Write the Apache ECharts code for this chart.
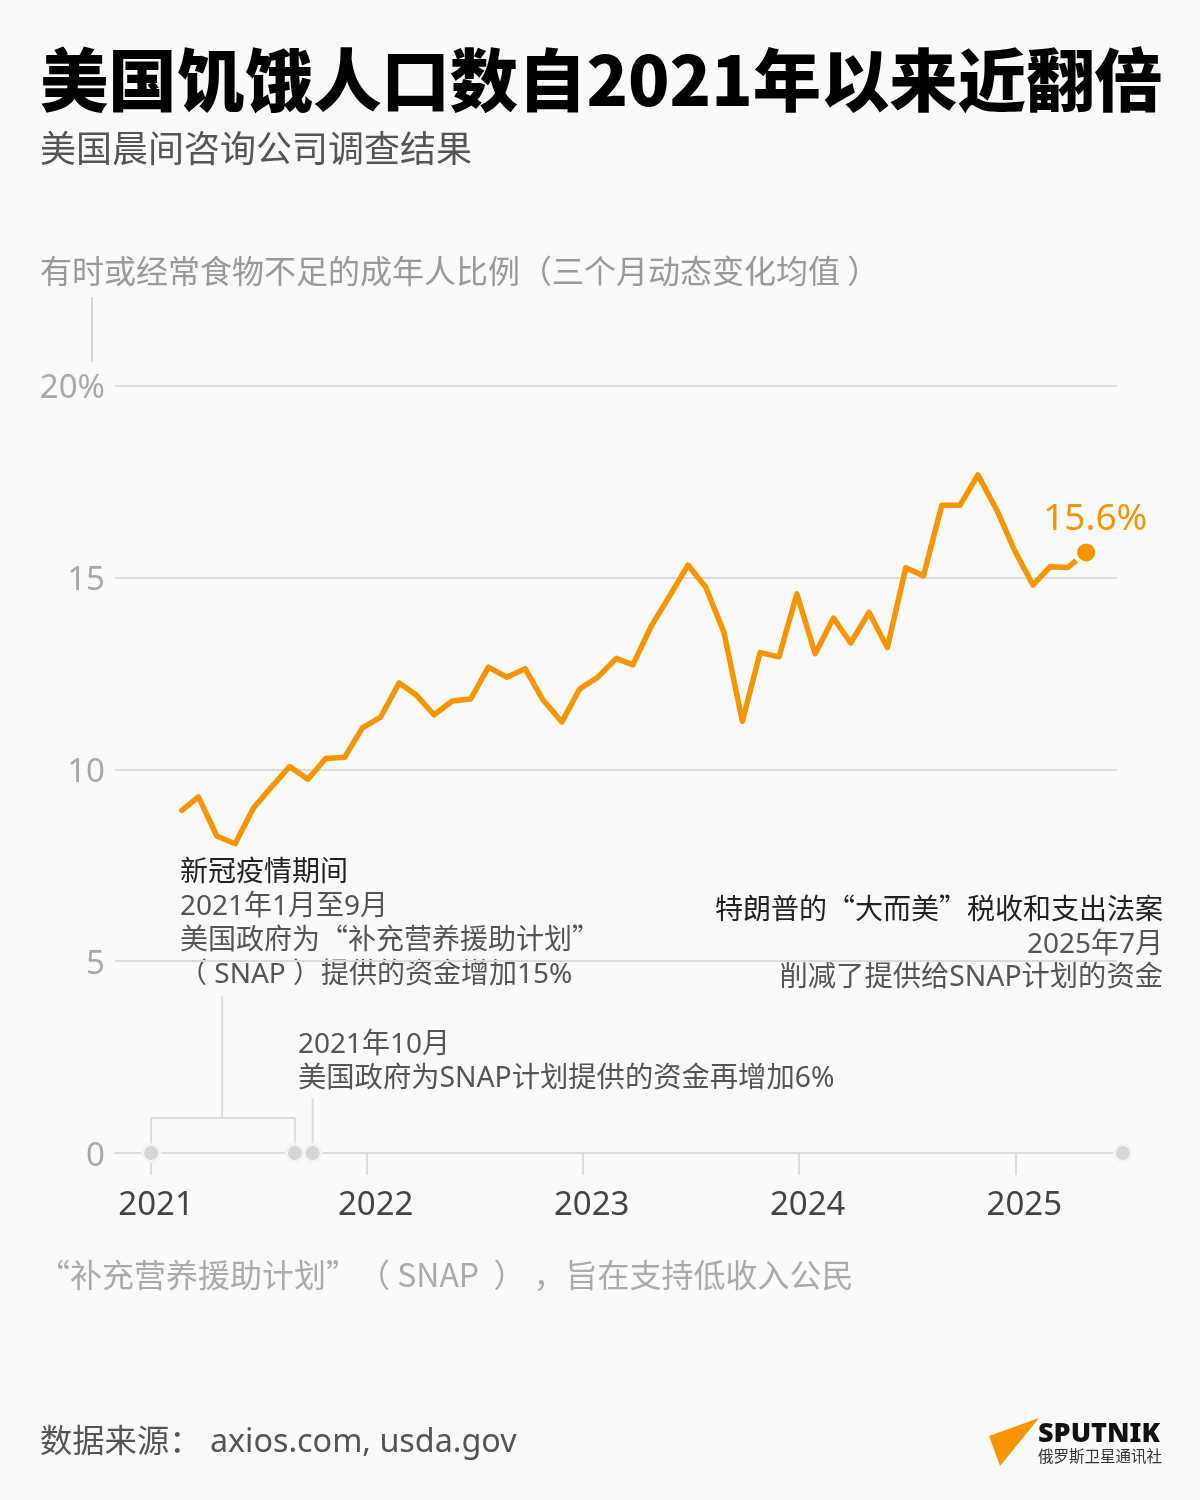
<!DOCTYPE html>
<html>
<head>
<meta charset="utf-8">
<title>美国饥饿人口数自2021年以来近翻倍</title>
<style>
  html, body { margin: 0; padding: 0; background: #fafafa; }
  #chart { width: 1200px; height: 1500px; }
</style>
<script src="https://cdn.jsdelivr.net/npm/echarts@6/dist/echarts.min.js"></script>
</head>
<body>
<div id="chart"></div>
<script>
const FONT = '"Noto Sans", "Noto Sans CJK SC", sans-serif';
const FONT_CJK = '"Noto Sans CJK SC", "Noto Sans", sans-serif';

const dates = [
  '2021-02-22', '2021-03-22', '2021-04-22', '2021-05-23', '2021-06-23', '2021-07-23',
  '2021-08-23', '2021-09-23', '2021-10-23', '2021-11-24', '2021-12-24',
  '2022-01-24', '2022-02-24', '2022-03-24', '2022-04-24', '2022-05-25', '2022-06-25', '2022-07-25',
  '2022-08-25', '2022-09-25', '2022-10-25', '2022-11-26', '2022-12-26',
  '2023-01-26', '2023-02-26', '2023-03-26', '2023-04-26', '2023-05-27', '2023-06-27', '2023-07-27',
  '2023-08-27', '2023-09-27', '2023-10-27', '2023-11-28', '2023-12-28',
  '2024-01-28', '2024-02-28', '2024-03-28', '2024-04-28', '2024-05-29', '2024-06-29', '2024-07-29',
  '2024-08-29', '2024-09-29', '2024-10-29', '2024-11-30', '2024-12-30',
  '2025-01-30', '2025-02-28', '2025-03-30', '2025-04-30'
];
const hungerShare = [
  8.93, 9.28, 8.26, 8.06, 8.99, 9.53,
  10.07, 9.74, 10.28, 10.31, 11.08,
  11.36, 12.25, 11.95, 11.42, 11.78, 11.83, 12.66,
  12.40, 12.62, 11.81, 11.23, 12.09,
  12.40, 12.89, 12.72, 13.73, 14.51, 15.32, 14.75,
  13.56, 11.25, 13.04, 12.93, 14.57, 13.01,
  13.94, 13.29, 14.09, 13.17, 15.25, 15.04,
  16.88, 16.88, 17.67, 16.75, 15.70, 14.80,
  15.28, 15.26, 15.65
];
const yearTicks = ['2021-01-01', '2022-01-01', '2023-01-01', '2024-01-01', '2025-01-01'];
const eventDates = ['2021-01-01', '2021-09-01', '2021-10-01', '2025-07-01'];
const bracketDates = ['2021-01-01', '2021-01-01', '2021-09-01', '2021-09-01'];
const bracketLevels = [0, 0.91, 0.91, 0];
const stemDates = ['2021-05-01', '2021-05-01'];
const stemLevels = [0.91, 4.1];
const octLeaderLevels = [0, 1.43];
const julyLeaderLevels = [0, 4.06];

const ORANGE = '#f79500';
const BG = '#fafafa';
const RULE = '#dcdcdc';

const ts = d => Date.parse(d);

function pairs(xs, ys) {
  return xs.map((x, i) => [ts(x), ys[i]]);
}

function leader(data) {
  return {
    type: 'line',
    data: data,
    symbol: 'none',
    silent: true,
    clip: false,
    z: 1,
    lineStyle: { color: RULE, width: 2 }
  };
}

function label(x, y, text, size, fill, align, weight, family) {
  return {
    type: 'text',
    silent: true,
    style: {
      x: x,
      y: y,
      text: text,
      fill: fill,
      align: align || 'left',
      verticalAlign: 'middle',
      font: (weight || 'normal') + ' ' + size + 'px ' + (family || FONT_CJK)
    }
  };
}

// Noto Sans sits about 3px higher than the CJK face on the same baseline box
function latin(x, y, text, size, fill, align, weight) {
  return label(x, y + 3, text, size, fill, align, weight, FONT);
}

let option = {
  backgroundColor: BG,
  animation: false,
  textStyle: { fontFamily: FONT },
  grid: { left: 115, right: 83, top: 385.5, height: 767.5 },
  xAxis: {
    type: 'value',
    min: ts('2020-11-01'),
    max: ts('2025-06-21'),
    splitLine: { show: false },
    axisLine: { show: true, onZero: false, lineStyle: { color: RULE, width: 2 } },
    axisTick: { show: true, length: 22, customValues: yearTicks.map(ts), lineStyle: { color: RULE, width: 2 } },
    axisLabel: {
      customValues: yearTicks.map(ts),
      margin: 36,
      formatter: v => {
        let year = new Date(v).getUTCFullYear();
        return year === 2021 ? '{a|' + year + '}' : '{b|' + year + '}';
      },
      rich: {
        a: { fontSize: 33, color: '#444', fontFamily: FONT, padding: [0, 0, 0, 10] },
        b: { fontSize: 33, color: '#444', fontFamily: FONT, padding: [0, 0, 0, 17] }
      }
    }
  },
  yAxis: {
    type: 'value',
    min: 0,
    max: 20,
    interval: 5,
    axisLine: { show: false },
    axisTick: { show: false },
    splitLine: { lineStyle: { color: RULE, width: 2 } },
    axisLabel: {
      margin: 10,
      formatter: v => '{v|' + (v === 20 ? '20%' : v) + '}',
      rich: {
        v: { fontSize: 33, color: '#a8a8a8', fontFamily: FONT, padding: [7, 0, 0, 0] }
      }
    }
  },
  series: [
    leader(pairs(bracketDates, bracketLevels)),
    leader(pairs(stemDates, stemLevels)),
    leader(pairs([eventDates[2], eventDates[2]], octLeaderLevels)),
    leader(pairs([eventDates[3], eventDates[3]], julyLeaderLevels)),
    {
      type: 'scatter',
      data: eventDates.map(d => [ts(d), 0]),
      symbolSize: 17,
      clip: false,
      silent: true,
      z: 2,
      itemStyle: { color: '#d6d6d6', borderColor: '#f4f4f4', borderWidth: 3, opacity: 1 }
    },
    {
      type: 'line',
      data: pairs(dates, hungerShare),
      symbol: 'none',
      silent: true,
      z: 3,
      lineStyle: { color: ORANGE, width: 5.5, cap: 'round', join: 'round' }
    },
    {
      type: 'scatter',
      data: [[ts(dates[dates.length - 1]), hungerShare[hungerShare.length - 1]]],
      symbolSize: 22,
      silent: true,
      z: 4,
      itemStyle: { color: ORANGE, borderColor: BG, borderWidth: 4, opacity: 1 },
      label: {
        show: true,
        position: 'top',
        offset: [9, 4],
        formatter: '15.6%',
        color: ORANGE,
        fontSize: 37,
        fontFamily: FONT
      }
    }
  ],
  graphic: [
    label(40, 80, '美国饥饿人口数自2021年以来近翻倍', 68.3, '#000', 'left', '900'),
    label(40, 148, '美国晨间咨询公司调查结果', 36, '#555'),
    label(40, 271, '有时或经常食物不足的成年人比例（三个月动态变化均值 ）', 32, '#999'),
    {
      type: 'line',
      silent: true,
      shape: { x1: 92, y1: 297, x2: 92, y2: 362 },
      style: { stroke: '#c8c8c8', lineWidth: 1.5 }
    },
    label(180, 870, '新冠疫情期间', 28, '#222'),
    latin(180, 904, '2021年1月至9月', 28, '#555'),
    label(180, 938, '美国政府为“补充营养援助计划”', 28, '#555'),
    latin(179, 972, '（ SNAP ）提供的资金增加15%', 28, '#555'),
    latin(298, 1042, '2021年10月', 28, '#555'),
    latin(298, 1076, '美国政府为SNAP计划提供的资金再增加6%', 28.3, '#555'),
    label(1163, 908, '特朗普的“大而美”税收和支出法案', 28, '#222', 'right'),
    latin(1163, 942, '2025年7月', 28, '#555', 'right'),
    latin(1163, 975, '削减了提供给SNAP计划的资金', 28.3, '#555', 'right'),
    label(38, 1275, '“补充营养援助计划”（ SNAP  ）\u2005，旨在支持低收入公民', 32, '#aaa'),
    latin(40, 1440, '数据来源： axios.com, usda.gov', 32.3, '#555'),
    {
      type: 'polygon',
      silent: true,
      shape: { points: [[1039, 1418], [989, 1436], [1000, 1466]] },
      style: { fill: ORANGE }
    },
    latin(1038, 1431, 'SPUTNIK', 27, '#111', 'left', '900'),
    label(1038, 1456, '俄罗斯卫星通讯社', 15.5, '#333')
  ]
};

let myChart = echarts.init(document.getElementById('chart'));
myChart.setOption(option);
</script>
</body>
</html>
